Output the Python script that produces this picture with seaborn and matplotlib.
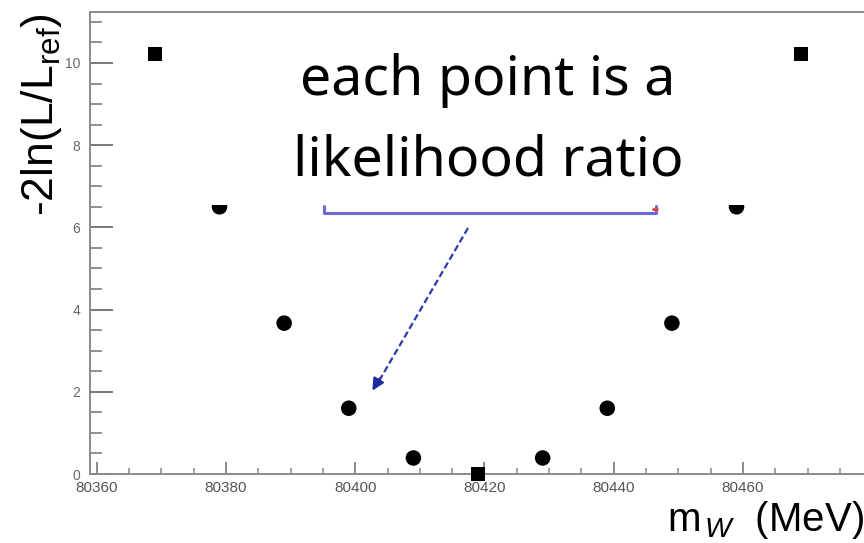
import matplotlib
matplotlib.use("Agg")
import matplotlib.pyplot as plt
from matplotlib.ticker import MultipleLocator, FixedLocator
from matplotlib.patches import Rectangle, FancyArrowPatch
from matplotlib.lines import Line2D
import seaborn as sns
import pandas as pd

# ---- data ----
mass_mev = [80369, 80379, 80389, 80399, 80409, 80419, 80429, 80439, 80449, 80459, 80469]
neg2lnL = [10.22, 6.50, 3.67, 1.60, 0.39, 0.00, 0.39, 1.60, 3.67, 6.50, 10.22]
marker_kind = ["square", "circle", "circle", "circle", "circle", "square",
               "circle", "circle", "circle", "circle", "square"]
x_ticks = [80360, 80380, 80400, 80420, 80440, 80460]
y_ticks = [0, 2, 4, 6, 8, 10]

df = pd.DataFrame({"m": mass_mev, "v": neg2lnL, "kind": marker_kind})

sns.set_style("white")
plt.rcParams["font.family"] = ["Liberation Sans", "DejaVu Sans"]
plt.rcParams["mathtext.fontset"] = "custom"
plt.rcParams["mathtext.rm"] = "Liberation Sans"
plt.rcParams["mathtext.it"] = "Liberation Sans:italic"
plt.rcParams["text.color"] = "black"

W, H = 864, 543
fig = plt.figure(figsize=(W / 100, H / 100), dpi=100)


def P(x, y):
    return (x / W, 1 - y / H)


ax = fig.add_axes([90 / W, (H - 474) / H, (880 - 90) / W, (474 - 12) / H])

sq = df[df["kind"] == "square"]
ci = df[df["kind"] == "circle"]
sns.scatterplot(data=sq, x="m", y="v", marker="s", color="black", s=95,
                edgecolor="none", ax=ax, clip_on=False, zorder=3, legend=False)
sns.scatterplot(data=ci, x="m", y="v", marker="o", color="black", s=125,
                edgecolor="none", ax=ax, clip_on=False, zorder=3, legend=False)

ax.set_xlim(80358.96, 80481.2)
ax.set_ylim(0, 11.24)
ax.xaxis.set_major_locator(FixedLocator(x_ticks))
ax.xaxis.set_minor_locator(MultipleLocator(5))
ax.yaxis.set_major_locator(FixedLocator(y_ticks))
ax.yaxis.set_minor_locator(MultipleLocator(0.5))
ax.set_xticklabels([str(t) for t in x_ticks])
ax.set_yticklabels([str(t) for t in y_ticks])
ax.set_xlabel("")
ax.set_ylabel("")

for side in ["left", "top", "bottom"]:
    ax.spines[side].set_color("#8a8a8a")
    ax.spines[side].set_linewidth(1.4)
ax.spines["right"].set_visible(False)

ax.tick_params(axis="y", which="major", direction="in", length=16.5, width=1.4,
               color="#777777", labelsize=10, labelcolor="#666666", pad=7,
               left=True)
ax.tick_params(axis="y", which="minor", direction="in", length=8.5, width=1.3,
               color="#888888", left=True)
ax.tick_params(axis="x", which="major", direction="in", length=8.5, width=1.2,
               color="#777777", labelsize=11, labelcolor="#555555", pad=5,
               bottom=True)
ax.tick_params(axis="x", which="minor", direction="in", length=4, width=1.1,
               color="#888888", bottom=True)

# axis titles
fig.text(*P(42, 115), r"-2ln(L/L$_{\mathrm{ref}}$)", rotation=90,
         ha="center", va="center", fontsize=32, color="black")
fig.text(*P(864, 531), r"m$_{\,\mathit{W}}$  (MeV)", ha="right", va="baseline",
         fontsize=29, color="black")

# white box behind the annotation text
fig.add_artist(Rectangle(P(205, 205), (755 - 205) / W, (205 - 20) / H,
                         transform=fig.transFigure, facecolor="white",
                         edgecolor="none", zorder=2))

fig.text(*P(488, 95), "each point is a", ha="center", va="baseline",
         fontsize=40, family=["Noto Sans", "DejaVu Sans"], color="black",
         zorder=4)
fig.text(*P(488, 175), "likelihood ratio", ha="center", va="baseline",
         fontsize=40, family=["Noto Sans", "DejaVu Sans"], color="black",
         zorder=4)

# blue bracket
bcol = "#6a6ad8"
xs, ys = [324, 324, 656, 656], [206, 213, 213, 206]
pts = [P(x, y) for x, y in zip(xs, ys)]
fig.add_artist(Line2D([p[0] for p in pts], [p[1] for p in pts],
                      transform=fig.transFigure, color=bcol, lw=2.2,
                      zorder=4))
fig.add_artist(Line2D([P(653, 209)[0], P(657, 209)[0]],
                      [P(653, 209)[1], P(657, 209)[1]],
                      transform=fig.transFigure, color="#e04040", lw=2,
                      zorder=5))

# dashed arrow
acol = "#2a3ab0"
fig.add_artist(Line2D([P(468, 228)[0], P(379, 381)[0]],
                      [P(468, 228)[1], P(379, 381)[1]],
                      transform=fig.transFigure, color=acol, lw=1.6,
                      linestyle=(0, (3, 1.5)), zorder=4))
fig.add_artist(FancyArrowPatch(P(381, 376), P(371, 393),
                               transform=fig.transFigure, arrowstyle="-|>",
                               mutation_scale=18, color="#1a2aa0", lw=1.5,
                               zorder=4))

fig.savefig("out.png", dpi=100)
